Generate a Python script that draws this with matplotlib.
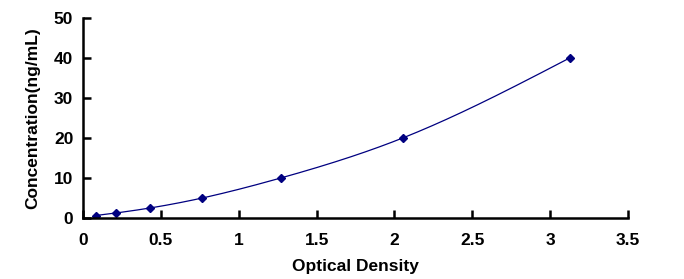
import numpy as np
import matplotlib
matplotlib.use("Agg")
import matplotlib.pyplot as plt

od = [0.083, 0.21, 0.43, 0.766, 1.27, 2.053, 3.125]
conc = [0.625, 1.25, 2.5, 5, 10, 20, 40]
xticks = [0, 0.5, 1, 1.5, 2, 2.5, 3, 3.5]
xtick_labels = ["0", "0.5", "1", "1.5", "2", "2.5", "3", "3.5"]
yticks = [0, 10, 20, 30, 40, 50]

def natural_spline(x, y, xs):
    x = np.asarray(x, float); y = np.asarray(y, float)
    n = len(x)
    h = np.diff(x)
    A = np.zeros((n, n)); b = np.zeros(n)
    A[0, 0] = 1; A[-1, -1] = 1
    for i in range(1, n - 1):
        A[i, i - 1] = h[i - 1]
        A[i, i] = 2 * (h[i - 1] + h[i])
        A[i, i + 1] = h[i]
        b[i] = 3 * ((y[i + 1] - y[i]) / h[i] - (y[i] - y[i - 1]) / h[i - 1])
    c = np.linalg.solve(A, b)
    out = np.empty_like(xs)
    for k, xv in enumerate(xs):
        i = min(max(np.searchsorted(x, xv) - 1, 0), n - 2)
        dx = xv - x[i]
        bi = (y[i + 1] - y[i]) / h[i] - h[i] * (2 * c[i] + c[i + 1]) / 3
        di = (c[i + 1] - c[i]) / (3 * h[i])
        out[k] = y[i] + bi * dx + c[i] * dx ** 2 + di * dx ** 3
    return out

plt.rcParams['font.family'] = ['Liberation Sans', 'DejaVu Sans']
fig = plt.figure(figsize=(6.84, 2.79), dpi=100)
ax = fig.add_axes([83 / 684, 1 - 218 / 279, (628 - 83) / 684, (218 - 18) / 279])

xs = np.linspace(od[0], od[-1], 300)
ax.plot(xs, natural_spline(od, conc, xs), color='#000080', lw=0.9)
ax.plot(od, conc, linestyle='none', marker='D', markersize=4, color='#000080')

ax.set_xlim(0, 3.5)
ax.set_ylim(0, 50)
ax.set_xticks(xticks)
ax.set_xticklabels(xtick_labels)
ax.set_yticks(yticks)
for s in ['top', 'right']:
    ax.spines[s].set_visible(False)
for s in ['left', 'bottom']:
    ax.spines[s].set_linewidth(1.8)
ax.tick_params(direction='in', length=6, width=1.8, labelsize=12.5)
ax.tick_params(axis='x', pad=11)
ax.tick_params(axis='y', pad=7)
for lab in ax.get_xticklabels() + ax.get_yticklabels():
    lab.set_fontweight('bold')
ax.set_xlabel('Optical Density', fontsize=12.5, fontweight='bold', labelpad=8)
ax.set_ylabel('Concentration(ng/mL)', fontsize=12.5, fontweight='bold', labelpad=10)

fig.savefig('out.png', dpi=100)
